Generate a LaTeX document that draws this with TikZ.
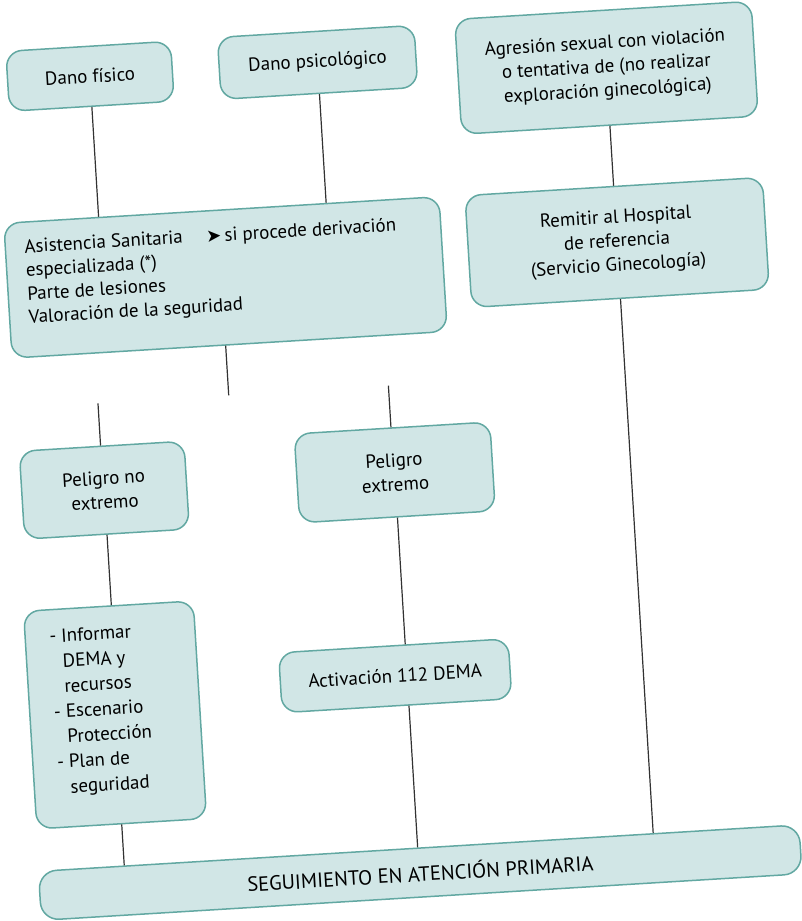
\documentclass[tikz,border=0pt]{standalone}
\usepackage{fontspec}
\setmainfont{PT Sans}
\newfontfamily\dejavu{DejaVu Sans}
\usetikzlibrary{calc}
\definecolor{boxfill}{RGB}{209,230,230}
\definecolor{boxline}{RGB}{98,168,162}
\definecolor{connc}{RGB}{50,50,50}
\begin{document}
\begin{tikzpicture}[x=1pt,y=-1pt,
  box/.style={draw=boxline, fill=boxfill, line width=1.5pt, rounded corners=16pt,
    align=center, font=\fontsize{19}{24}\selectfont, inner sep=0pt},
  txt/.style={inner sep=0pt, align=left, font=\fontsize{19}{23.5}\selectfont},
  conn/.style={draw=connc, line width=1.2pt}]
\useasboundingbox[fill=white] (0,0) rectangle (802,921);
\begin{scope}[rotate around={3.5:(401,460)}, transform shape]
\node[box, minimum width=165pt, minimum height=60pt] (dfis) at (114,58) {Dano físico};
\node[box, minimum width=197pt, minimum height=62pt] (dpsi) at (342,58) {Dano psicológico};
\node[box, minimum width=297pt, minimum height=115pt] (agr) at (630,81)
  {Agresión sexual con violación\\o tentativa de (no realizar\\exploración ginecológica)};
\node[box, minimum width=298pt, minimum height=112pt] (rem) at (630,256)
  {Remitir al Hospital\\de referencia\\(Servicio Ginecología)};
\node[box, minimum width=436pt, minimum height=135pt] (asis) at (237,267) {};
\node[txt, anchor=west] (asistxt) at (38,261)
  {Asistencia Sanitaria\\especializada (*)\\Parte de lesiones\\Valoración de la seguridad};
\node[txt, anchor=base west] (deriv) at (220,231)
  {{\dejavu\fontsize{18}{18}\selectfont ➤}\,si procede derivación};
\node[box, minimum width=165pt, minimum height=88pt] (pne) at (103,472) {Peligro no\\extremo};
\node[box, minimum width=196pt, minimum height=89pt] (pex) at (394,472) {Peligro\\extremo};
\node[box, minimum width=170pt, minimum height=218pt] (inf) at (100,697) {};
\node[txt, anchor=west, font=\fontsize{19}{25.2}\selectfont] (inftxt) at (51,692)
  {\llap{- }Informar\\DEMA y\\recursos\\\llap{- }Escenario\\Protección\\\llap{- }Plan de\\seguridad};
\node[box, minimum width=230pt, minimum height=60pt] (act) at (382,675) {Activación 112 DEMA};
\node[box, minimum width=762pt, minimum height=49pt, rounded corners=18pt,
  font=\fontsize{20.5}{24}\selectfont] (seg) at (395,873)
  {SEGUIMIENTO EN ATENCIÓN PRIMARIA};
\coordinate (j1) at (233,385);
\coordinate (j2) at (102,385);
\coordinate (j3) at (393,385);
\draw[conn] (dfis.south) -- ($(asis.north west)!(dfis.south)!(asis.north east)$);
\draw[conn] (dpsi.south) -- ($(asis.north west)!(dpsi.south)!(asis.north east)$);
\draw[conn] (agr.south) -- ($(rem.north west)!(agr.south)!(rem.north east)$);
\draw[conn] ($(asis.south west)!(j1)!(asis.south east)$) -- (j1);
\draw[conn] (j2) -- ($(pne.north west)!(j2)!(pne.north east)$);
\draw[conn] (j3) -- ($(pex.north west)!(j3)!(pex.north east)$);
\draw[conn] (pne.south) -- ($(inf.north west)!(pne.south)!(inf.north east)$);
\draw[conn] (pex.south) -- ($(act.north west)!(pex.south)!(act.north east)$);
\draw[conn] ($(act.south west)!(pex.south)!(act.south east)$) -- ($(seg.north west)!(pex.south)!(seg.north east)$);
\draw[conn] (inf.south) -- ($(seg.north west)!(inf.south)!(seg.north east)$);
\draw[conn] (rem.south) -- ($(seg.north west)!(rem.south)!(seg.north east)$);
\end{scope}
\end{tikzpicture}
\end{document}
